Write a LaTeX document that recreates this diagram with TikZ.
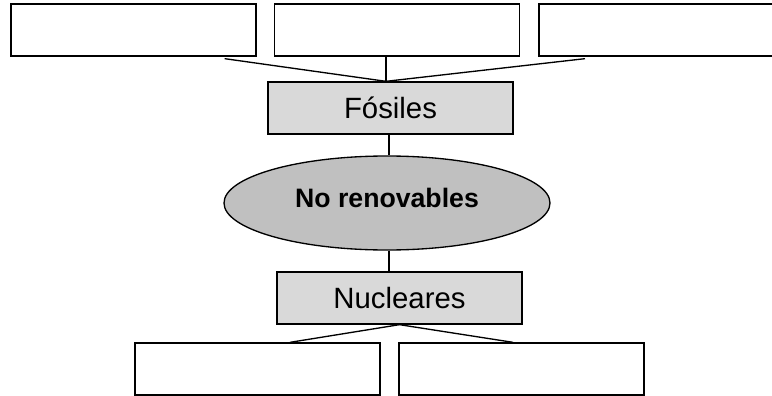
\documentclass[tikz,border=0pt]{standalone}
\usepackage{fontspec}
\setmainfont{Liberation Sans}
\definecolor{boxgray}{HTML}{D9D9D9}
\definecolor{ovalgray}{HTML}{C0C0C0}
\tikzset{
  blank/.style={draw, line width=1pt, fill=white, inner sep=0pt,
    minimum width=183.75pt, minimum height=39pt},
  kind/.style={blank, fill=boxgray, font=\fontsize{22}{26}\selectfont},
  oval/.style={draw, ellipse, line width=1pt, fill=ovalgray, inner sep=0pt,
    minimum width=244.5pt, minimum height=70.5pt,
    font=\bfseries\fontsize{20}{24}\selectfont},
  link/.style={line width=1pt}
}
\usetikzlibrary{shapes.geometric}
\begin{document}
\begin{tikzpicture}[x=0.75pt, y=-0.75pt]
  \useasboundingbox (0,0) rectangle (772,396);

  \node[blank] (Top1) at (133.5,30) {};
  \node[blank] (Top2) at (397,30) {};
  \node[blank, minimum width=177pt] (Top3) at (657,30) {};

  \node[kind] (Fosiles) at (390.5,108) {Fósiles};
  \node[oval] (NoRen) at (387,203) {\raisebox{7.5pt}{No renovables}};
  \node[kind] (Nucleares) at (399.5,298) {Nucleares};

  \node[blank] (Bot1) at (257.5,369) {};
  \node[blank] (Bot2) at (521.5,369) {};

  \coordinate (FosTop) at ([xshift=-3.4pt]Fosiles.north);

  \draw[link] (FosTop) to ([xshift=-24pt,yshift=-1.5pt]Top1.south east);
  \draw[link] (FosTop) to (FosTop |- Top2.south);
  \draw[link] (FosTop) to ([xshift=-54pt,yshift=-1.5pt]Top3.south);

  \draw[link] ([xshift=1.5pt]NoRen.north |- Fosiles.south) to ([xshift=1.5pt]NoRen.north);
  \draw[link] ([xshift=1.5pt]NoRen.south) to ([xshift=1.5pt]NoRen.south |- Nucleares.north);

  \draw[link] (Nucleares.south) to ([xshift=24.4pt]Bot1.north);
  \draw[link] (Nucleares.south) to ([xshift=-6.4pt]Bot2.north);
\end{tikzpicture}
\end{document}
